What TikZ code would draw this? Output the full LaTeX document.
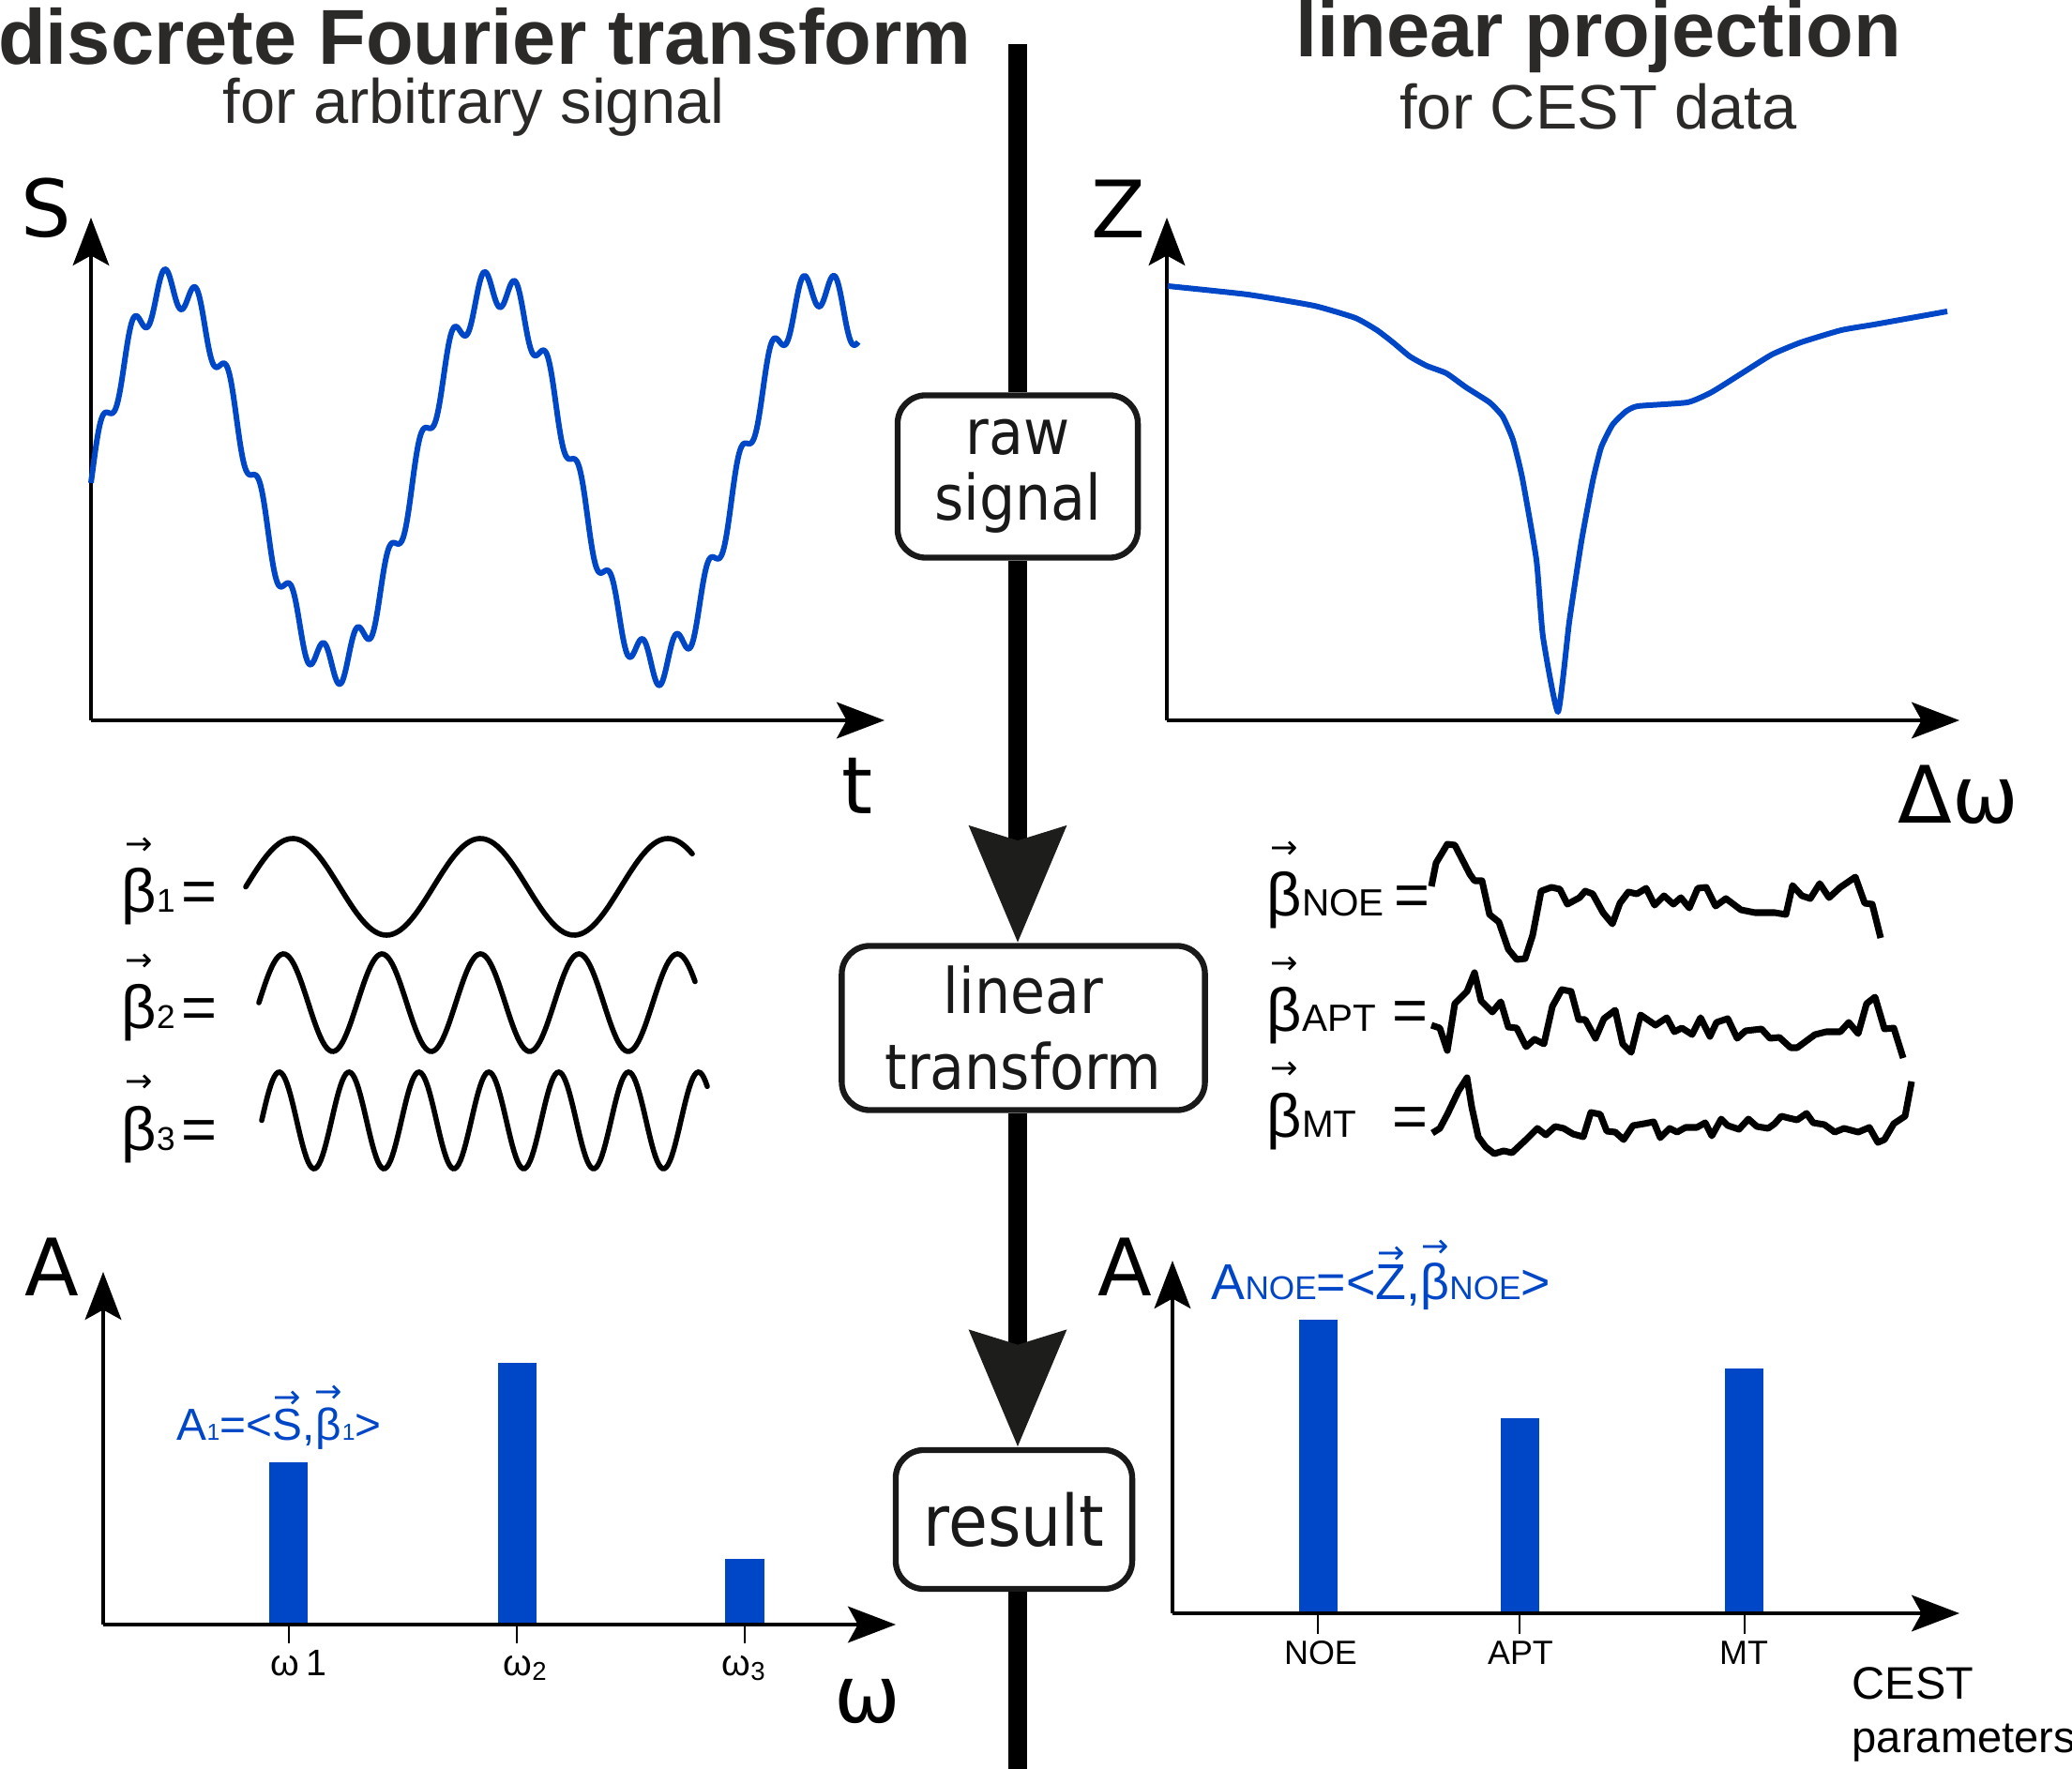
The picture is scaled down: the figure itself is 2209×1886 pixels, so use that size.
\documentclass[tikz,border=0pt]{standalone}
\usepackage{fontspec}
\setmainfont{Liberation Sans}
\newfontfamily\dvfont{DejaVu Sans}
\newfontfamily\dvnarrow[FakeStretch=0.9]{DejaVu Sans}
\usetikzlibrary{arrows.meta}

\definecolor{sigblue}{RGB}{0,71,200}
\definecolor{headgray}{RGB}{43,42,41}
\definecolor{tipgray}{RGB}{29,29,27}

% small arrow over a letter: [arrow size]{gap}{letter}
\newcommand{\arrowon}[3][10]{\vbox{\offinterlineskip\halign{\hfil##\hfil\cr{\dvfont\fontsize{#1}{#1}\selectfont →}\cr\noalign{\kern#2}#3\cr}}}
\newcommand{\lowtext}[2]{{\fontsize{#1}{#1}\selectfont #2}}

\begin{document}
\begin{tikzpicture}[x=0.01cm,y=-0.01cm,
    axisline/.style={line width=1pt,-{Stealth[length=14.5pt,width=11pt,inset=3pt]}},
    tickmark/.style={line width=0.5pt},
    sigline/.style={sigblue,line width=1.7pt,line join=round},
    basis/.style={black,line width=1.6pt,line cap=round},
    noisy/.style={black,line width=2pt,line join=round},
    ampbar/.style={fill=sigblue},
    mainline/.style={black,line width=5.7pt},
    bigtip/.style={-{Stealth[length=35pt,width=28.5pt,inset=4pt,color=tipgray]}},
    procbox/.style={draw=black!90,line width=1.8pt,rounded corners=0.3cm,fill=white,text=black!90,align=center,inner sep=0pt},
    heading/.style={anchor=base,text=headgray,font=\bfseries\fontsize{23.6}{28}\selectfont},
    subheading/.style={anchor=base,text=headgray,font=\fontsize{19}{22}\selectfont},
    axlabel/.style={anchor=base,inner sep=0pt,font=\dvfont\fontsize{24}{28}\selectfont},
    vlabel/.style={anchor=base west,inner sep=0pt,font=\fontsize{18.5}{20}\selectfont},
    ticklabel/.style={anchor=base,inner sep=0pt,font=\fontsize{10.2}{12}\selectfont},
    formula/.style={anchor=base west,inner sep=0pt,text=sigblue}]

    \path[use as bounding box,fill=white] (0,0) rectangle (2209,1886);

    %%%%% HEADINGS
    \node[heading] (DFT) at (517,69) {discrete Fourier transform};
    \node[subheading] (DFTSUB) at (505,132) {for arbitrary signal};
    \node[heading] (LP) at (1704,61) {linear projection};
    \node[subheading] (LPSUB) at (1704,138) {for CEST data};

    %%%%% THE PIPELINE
    \node[procbox,minimum width=2.56cm,minimum height=1.73cm,font=\dvnarrow\fontsize{19}{20}\selectfont] (RAW) at (1085,508) {raw\\signal};
    \node[procbox,minimum width=3.87cm,minimum height=1.75cm,font=\dvnarrow\fontsize{19}{23}\selectfont] (TRANSFORM) at (1091,1096) {linear\\transform};
    \node[procbox,minimum width=2.52cm,minimum height=1.48cm,font=\dvnarrow\fontsize{21.5}{24}\selectfont] (RESULT) at (1081,1620) {result};
    \coordinate (TOP) at (1085,47);
    \coordinate (BOTTOM) at (1085,1886);
    \draw[mainline] (TOP) -- (TOP |- RAW.north);
    \draw[mainline,bigtip] (RAW.south) -- (RAW.south |- TRANSFORM.north);
    \draw[mainline,bigtip] (RAW.south |- TRANSFORM.south) -- (RAW.south |- RESULT.north);
    \draw[mainline] (RAW.south |- RESULT.south) -- (BOTTOM);

    %%%%% THE SIGNAL
    \coordinate (SO) at (97,768);
    \coordinate (SY) at (97,232);
    \coordinate (SX) at (943,768);
    \draw[axisline] (SO) -- (SY);
    \draw[axisline] (SO) -- (SX);
    \node[axlabel] (SLAB) at (49,253) {S};
    \node[axlabel] (TLAB) at (914,868) {t};
    \draw[sigline] plot[domain=97:915,samples=500,smooth]
        (\x,{508-202*sin((\x-97)/345*360)-21*cos((\x-175.4)/34.04*360)});

    %%%%% THE Z-SPECTRUM
    \coordinate (ZO) at (1244,768);
    \coordinate (ZY) at (1244,232);
    \coordinate (ZX) at (2089,768);
    \draw[axisline] (ZO) -- (ZY);
    \draw[axisline] (ZO) -- (ZX);
    \node[axlabel] (ZLAB) at (1192,254) {Z};
    \node[axlabel] (DWLAB) at (2088,878) {Δω};
    \draw[sigline] plot[smooth,tension=0.3] coordinates {(1245,305) (1330,314) (1401,326) (1445,339)
        (1468,352) (1485,365) (1503,380) (1521,390) (1542,398) (1563,413) (1588,429) (1602,444)
        (1613,469) (1623,510) (1638,597) (1645,679) (1661,759) (1673,663) (1686,577) (1698,513)
        (1707,477) (1719,453) (1733,439) (1746,433) (1799,429) (1825,418) (1857,398) (1889,378)
        (1920,365) (1963,352) (1998,346) (2037,339) (2076,332)};

    %%%%% THE FOURIER BASIS
    \node[vlabel] (B1) at (129,973) {\arrowon{4pt}{β}\lowtext{10}{1}\kern2pt=};
    \node[vlabel] (B2) at (129,1097) {\arrowon{4pt}{β}\lowtext{10}{2}\kern2pt=};
    \node[vlabel] (B3) at (129,1226) {\arrowon{4pt}{β}\lowtext{10}{3}\kern2pt=};
    \draw[basis] plot[domain=262:738,samples=150] (\x,{945.5-51.5*sin((\x-262)/200*360)});
    \draw[basis] plot[domain=276:741,samples=200] (\x,{1069-52*sin((\x-276)/105*360)});
    \draw[basis] plot[domain=279:754,samples=250] (\x,{1194.5-51.5*sin((\x-279)/74.5*360)});

    %%%%% THE CEST BASIS
    \node[vlabel] (BNOE) at (1350,977) {\arrowon{4pt}{β}\lowtext{11.5}{NOE}\kern3pt=};
    \node[vlabel] (BAPT) at (1350,1100) {\arrowon{4pt}{β}\makebox[22.4pt][l]{\lowtext{11.5}{APT}} =};
    \node[vlabel] (BMT) at (1350,1212) {\arrowon{4pt}{β}\makebox[22.4pt][l]{\lowtext{11.5}{MT}} =};
    \draw[noisy] (1526,945) -- (1531,920) -- (1543,900) -- (1551,901) -- (1567,932) -- (1572,939)
        -- (1580,939) -- (1588,975) -- (1598,983) -- (1608,1012) -- (1617,1023) -- (1626,1022)
        -- (1634,997) -- (1643,950) -- (1654,946) -- (1663,948) -- (1671,964) -- (1684,957)
        -- (1690,950) -- (1698,953) -- (1709,973) -- (1719,985) -- (1727,963) -- (1736,951)
        -- (1745,953) -- (1755,947) -- (1764,965) -- (1774,955) -- (1784,964) -- (1792,957)
        -- (1801,968) -- (1810,947) -- (1819,946) -- (1829,966) -- (1840,958) -- (1856,970)
        -- (1871,973) -- (1885,973) -- (1892,973) -- (1904,975) -- (1911,944) -- (1921,955)
        -- (1930,958) -- (1940,942) -- (1950,957) -- (1962,946) -- (1978,935) -- (1988,963)
        -- (1996,964) -- (2005,1000);
    \draw[noisy] (1526,1093) -- (1535,1096) -- (1543,1120) -- (1551,1070) -- (1564,1057) -- (1572,1037)
        -- (1579,1067) -- (1591,1079) -- (1600,1068) -- (1608,1095) -- (1617,1096) -- (1627,1116)
        -- (1636,1108) -- (1646,1113) -- (1655,1073) -- (1665,1055) -- (1675,1057) -- (1683,1087)
        -- (1690,1087) -- (1701,1107) -- (1710,1086) -- (1722,1077) -- (1730,1113) -- (1739,1122)
        -- (1749,1082) -- (1765,1093) -- (1777,1085) -- (1785,1100) -- (1793,1096) -- (1804,1103)
        -- (1813,1085) -- (1823,1105) -- (1830,1090) -- (1842,1086) -- (1852,1107) -- (1861,1099)
        -- (1878,1097) -- (1887,1107) -- (1897,1106) -- (1909,1117) -- (1916,1117) -- (1935,1103)
        -- (1947,1100) -- (1962,1100) -- (1971,1090) -- (1981,1102) -- (1990,1070) -- (1999,1063)
        -- (2009,1097) -- (2019,1096) -- (2029,1128);
    \draw[noisy] (1527,1208) -- (1535,1203) -- (1543,1188) -- (1555,1163) -- (1564,1149) -- (1569,1180)
        -- (1576,1212) -- (1584,1223) -- (1593,1230) -- (1603,1227) -- (1612,1229) -- (1627,1215)
        -- (1639,1203) -- (1648,1210) -- (1658,1201) -- (1667,1203) -- (1677,1209) -- (1688,1212)
        -- (1696,1186) -- (1706,1188) -- (1713,1206) -- (1722,1207) -- (1731,1215) -- (1741,1200)
        -- (1753,1198) -- (1763,1196) -- (1770,1213) -- (1780,1203) -- (1788,1207) -- (1797,1202)
        -- (1809,1202) -- (1818,1197) -- (1825,1211) -- (1835,1193) -- (1842,1200) -- (1854,1204)
        -- (1864,1193) -- (1873,1201) -- (1885,1203) -- (1892,1198) -- (1899,1190) -- (1907,1192)
        -- (1916,1194) -- (1926,1187) -- (1933,1197) -- (1945,1199) -- (1956,1207) -- (1966,1203)
        -- (1981,1207) -- (1993,1202) -- (2002,1218) -- (2009,1215) -- (2019,1198) -- (2031,1190)
        -- (2038,1153);

    %%%%% THE FOURIER AMPLITUDES
    \fill[ampbar] (287,1732) rectangle (328,1559);
    \fill[ampbar] (531,1732) rectangle (572,1453);
    \fill[ampbar] (773,1732) rectangle (815,1662);
    \coordinate (AO) at (110,1732);
    \coordinate (AY) at (110,1356);
    \coordinate (AX) at (955,1732);
    \draw[axisline] (AO) -- (AY);
    \draw[axisline] (AO) -- (AX);
    \draw[tickmark] (308,1732) -- (308,1752);
    \draw[tickmark] (551,1732) -- (551,1752);
    \draw[tickmark] (794,1732) -- (794,1752);
    \node[axlabel] (ALAB) at (55,1381) {A};
    \node[axlabel] (WLAB) at (925,1836) {ω};
    \node[ticklabel,anchor=base west,font=\fontsize{11.2}{13}\selectfont] (W1) at (288,1786) {ω\,1};
    \node[ticklabel,anchor=base west,font=\fontsize{11.2}{13}\selectfont] (W2) at (536,1786) {ω\textsubscript{2}};
    \node[ticklabel,anchor=base west,font=\fontsize{11.2}{13}\selectfont] (W3) at (769,1786) {ω\textsubscript{3}};
    \node[formula,font=\fontsize{13.6}{15}\selectfont] (AONE) at (188,1535)
        {A\lowtext{7}{1}=<\arrowon{0pt}{S},\arrowon{1.5pt}{β}\lowtext{7}{1}>};

    %%%%% THE CEST AMPLITUDES
    \fill[ampbar] (1385,1720) rectangle (1426,1407);
    \fill[ampbar] (1600,1720) rectangle (1641,1512);
    \fill[ampbar] (1839,1720) rectangle (1880,1459);
    \coordinate (CO) at (1250,1720);
    \coordinate (CY) at (1250,1344);
    \coordinate (CX) at (2089,1720);
    \draw[axisline] (CO) -- (CY);
    \draw[axisline] (CO) -- (CX);
    \draw[tickmark] (1405,1720) -- (1405,1742);
    \draw[tickmark] (1620,1720) -- (1620,1742);
    \draw[tickmark] (1860,1720) -- (1860,1742);
    \node[axlabel] (CALAB) at (1199,1381) {A};
    \node[ticklabel] (TNOE) at (1408,1774) {NOE};
    \node[ticklabel] (TAPT) at (1621,1774) {APT};
    \node[ticklabel] (TMT) at (1859,1774) {MT};
    \node[anchor=base west,inner sep=0pt,font=\fontsize{13.8}{16}\selectfont] (CEST) at (1974,1811) {CEST};
    \node[anchor=base west,inner sep=0pt,font=\fontsize{13.4}{16}\selectfont] (PARAMS) at (1974,1868) {parameters};
    \node[formula,font=\fontsize{15.3}{17}\selectfont] (ANOE) at (1291,1385)
        {A\lowtext{10}{NOE}=<\arrowon{0pt}{Z},\arrowon{1.5pt}{β}\lowtext{10}{NOE}>};
\end{tikzpicture}
\end{document}
